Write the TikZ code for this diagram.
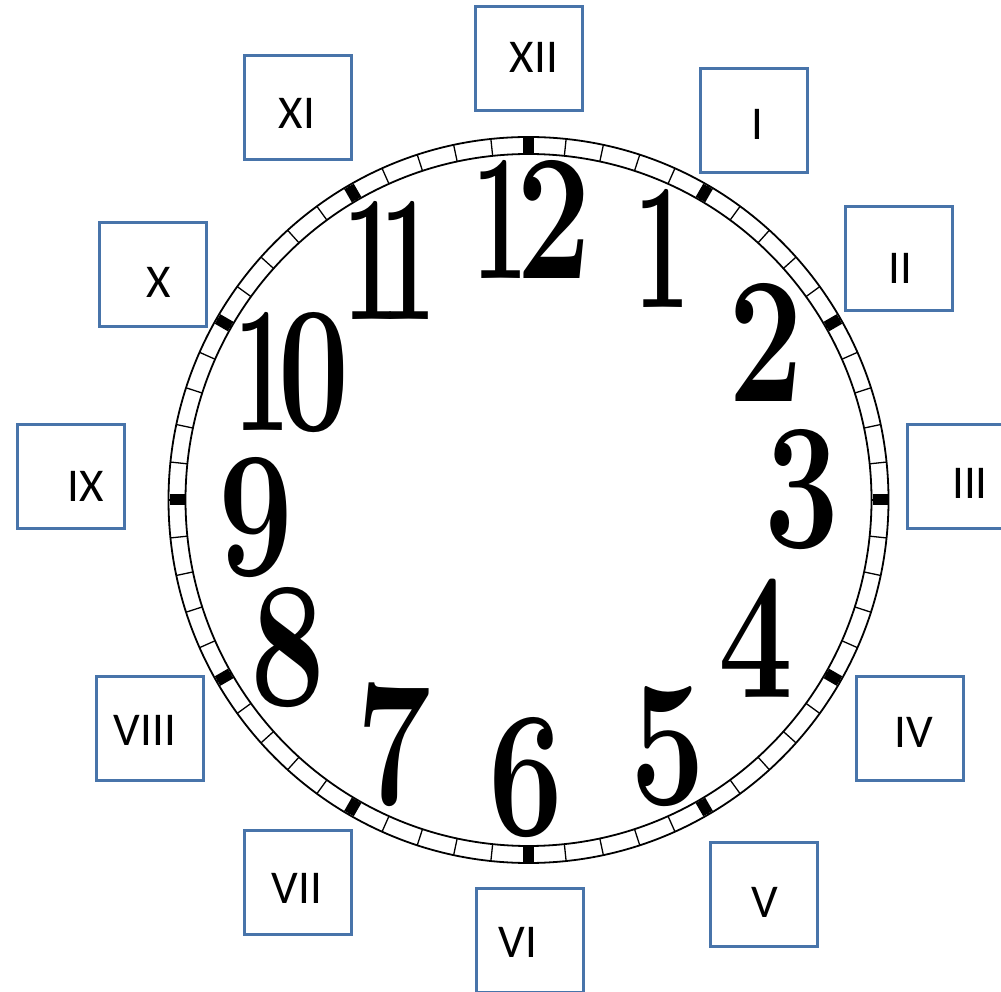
\documentclass[tikz,border=0pt]{standalone}
\usepackage{fontspec}
\newfontfamily\boxfont{Carlito}
\definecolor{boxblue}{RGB}{72,116,170}
\tikzset{
  romanbox/.style={draw=boxblue, line width=3pt, minimum width=107pt, minimum height=104pt, inner sep=0pt, fill=none},
  romantext/.style={font=\boxfont\fontsize{47}{47}\selectfont, inner sep=0pt, text=black},
  digit/.style={font=\fontsize{180}{180}\selectfont\bfseries, inner sep=0pt, text=black},
  rim/.style={line width=1.8pt, black},
  minortick/.style={line width=1.3pt, black},
  hourtick/.style={line width=11pt, black},
}
\newcommand{\dg}[1]{\scalebox{0.74}[1]{#1}}
\newcommand{\dgone}{\scalebox{0.55}[1]{1}}
\begin{document}
\begin{tikzpicture}[x=1pt,y=1pt]
\clip (0,0) rectangle (1001,991);
\fill[white] (0,0) rectangle (1001,991);
\coordinate (c) at (528.5,491);
% rim
\draw[rim] (c) ellipse [x radius=360pt, y radius=363pt];
\draw[rim] (c) ellipse [x radius=343pt, y radius=346pt];
\foreach \a in {0,6,...,354}{
  \draw[minortick] ({528.5+343*cos(\a)},{491+346*sin(\a)}) -- ({528.5+360*cos(\a)},{491+363*sin(\a)});
}
\foreach \a in {0,30,...,330}{
  \draw[hourtick] ({528.5+344*cos(\a)},{491+347*sin(\a)}) -- ({528.5+359*cos(\a)},{491+362*sin(\a)});
}
% numerals
\node[digit] (n12) at (532,772) {\dgone\kern-12pt\dg{2}};
\node[digit] (n1) at (662,743) {\dgone};
\node[digit] (n2) at (766,649) {\dg{2}};
\node[digit] (n3) at (802,501) {\dg{3}};
\node[digit] (n4) at (756,353) {\dg{4}};
\node[digit] (n5) at (668,244) {\dg{5}};
\node[digit] (n6) at (526,213) {\dg{6}};
\node[digit] (n7) at (394,246) {\dg{7}};
\node[digit] (n8) at (288,343) {\dg{8}};
\node[digit] (n9) at (256,473) {\dg{9}};
\node[digit] (n10) at (292,618) {\dgone\kern-12pt\scalebox{0.7}[1]{0}};
\node[digit] (n11) at (390,731) {\scalebox{0.55}[1]{1\kern-35pt 1}};
% boxes
\node[romanbox] (bXII) at (529,932.5) {};
\node[romanbox] (bI) at (754,870.5) {};
\node[romanbox] (bII) at (899,732) {};
\node[romanbox] (bIII) at (961,514) {};
\node[romanbox] (bIV) at (909.5,262) {};
\node[romanbox] (bV) at (764,97) {};
\node[romanbox] (bVI) at (529.5,50.5) {};
\node[romanbox] (bVII) at (298,108.5) {};
\node[romanbox] (bVIII) at (149.5,262) {};
\node[romanbox] (bIX) at (71,514) {};
\node[romanbox] (bX) at (153,716.5) {};
\node[romanbox] (bXI) at (298,883) {};
% box texts
\node[romantext] (tXII) at (534,934) {XII};
\node[romantext] (tI) at (757,867) {I};
\node[romantext] (tII) at (900,723) {II};
\node[romantext] (tIII) at (970,508) {III};
\node[romantext] (tIV) at (914,259) {IV};
\node[romantext] (tV) at (765,89) {V};
\node[romantext] (tVI) at (518,49) {VI};
\node[romantext] (tVII) at (297,103) {VII};
\node[romantext] (tVIII) at (145,261) {VIII};
\node[romantext] (tIX) at (86,505) {IX};
\node[romantext] (tX) at (159,709) {X};
\node[romantext] (tXI) at (297,878) {XI};
\end{tikzpicture}
\end{document}
